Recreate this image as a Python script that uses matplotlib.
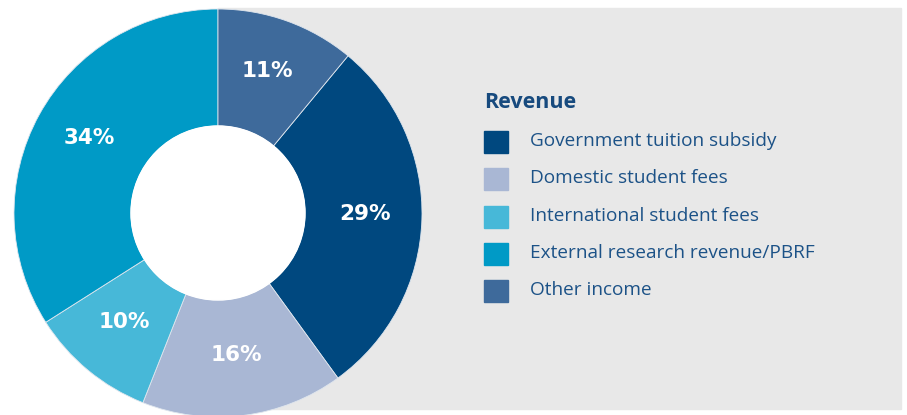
import matplotlib
matplotlib.use("Agg")
import matplotlib.pyplot as plt
from matplotlib.patches import Rectangle, Circle

# data (legend order)
labels = ["Government tuition subsidy", "Domestic student fees",
          "International student fees", "External research revenue/PBRF",
          "Other income"]
shares = [29, 16, 10, 34, 11]
colors = ["#00487f", "#a9b7d4", "#47b8d8", "#009ac6", "#3e6a9b"]
title = "Revenue"

plt.rcParams["font.family"] = ["Open Sans", "DejaVu Sans"]

W, H = 907, 415
fig = plt.figure(figsize=(W / 100, H / 100), dpi=100)
ax = fig.add_axes([0, 0, 1, 1])

# grey panel behind the right half
ax.add_patch(Rectangle((218, 6), 683, 401, color="#e8e8e8", zorder=0))

# other income is last, so start so it ends at 12 o'clock
start = 90 - shares[-1] / sum(shares) * 360
wedges, _, pcts = ax.pie(shares, colors=colors, startangle=start,
                         counterclock=False, center=(218, 202), radius=204,
                         autopct="%d%%", pctdistance=0.72,
                         wedgeprops=dict(width=117, edgecolor="#dfe6ee",
                                         linewidth=0.6),
                         textprops=dict(color="white", fontsize=15.5,
                                        fontweight="bold",
                                        family="DejaVu Sans"))
for w in wedges:
    w.set_zorder(2)
for t in pcts:
    t.set_zorder(3)
    x, y = t.get_position()
    t.set_position((x, y + 4))  # visual centring (no descenders)
# white hole in the middle
ax.add_patch(Circle((218, 202), 87, color="white", zorder=2.5))

# legend
txt_col = "#1c5287"
ax.text(484, 415 - 102, title, fontsize=15.5, fontweight="bold",
        color="#174a7e", va="center", ha="left")
for i, (lab, col) in enumerate(zip(labels, colors)):
    yc = 415 - (142 + i * 37.3)
    ax.add_patch(Rectangle((484, yc - 11), 24, 22, color=col))
    ax.text(530, yc + 1, lab, fontsize=13.7, color=txt_col,
            va="center", ha="left")

ax.set_xlim(0, W)
ax.set_ylim(0, H)
ax.set_aspect("auto")
ax.axis("off")

fig.savefig("out.png", dpi=100)
